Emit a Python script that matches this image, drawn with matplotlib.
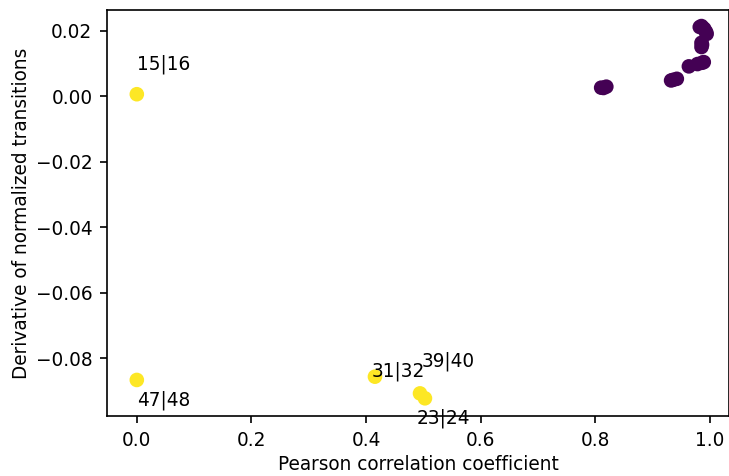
import matplotlib
matplotlib.use("Agg")
import matplotlib.pyplot as plt
import numpy as np

plt.rcParams["font.size"] = 8.9

# Pearson correlation vs. derivative of normalized transitions for channel pairs
corr_ok = [0.810, 0.814, 0.819, 0.932, 0.936, 0.942, 0.963, 0.978, 0.989, 0.986,
           0.985, 0.986, 0.985, 0.982, 0.985, 0.990, 0.993, 0.994, 0.988]
deriv_ok = [0.0026, 0.0025, 0.0029, 0.0048, 0.0050, 0.0053, 0.0091, 0.0098, 0.0104, 0.0102,
            0.0150, 0.0157, 0.0163, 0.0211, 0.0214, 0.0205, 0.0196, 0.0190, 0.0208]

# Outlier pairs
pair_names = ["15|16", "23|24", "31|32", "39|40", "47|48"]
corr_out = [0.000, 0.5026, 0.4154, 0.494, 0.000]
deriv_out = [0.0006, -0.0922, -0.0856, -0.0907, -0.0866]

corr = np.array(corr_ok + corr_out)
deriv = np.array(deriv_ok + deriv_out)
flag = np.array([0] * len(corr_ok) + [1] * len(corr_out))

fig = plt.figure(figsize=(730 / 150, 476 / 150), dpi=150)
ax = fig.add_axes([107 / 730, 1 - 416 / 476, (729 - 107) / 730, (416 - 10) / 476])
ax.scatter(corr, deriv, c=flag, cmap="viridis")

# label offsets (dx, dy) for each outlier pair
offsets = [(0.0, 0.0076), (-0.015, -0.0076), (-0.006, 0.0), (0.003, 0.0081), (0.0, -0.0077)]
for name, x, y, (dx, dy) in zip(pair_names, corr_out, deriv_out, offsets):
    ax.text(x + dx, y + dy, name)

ax.set_xlim(-0.052, 1.033)
ax.set_ylim(-0.0976, 0.0263)
ax.set_xlabel("Pearson correlation coefficient", labelpad=2.5)
ax.set_ylabel("Derivative of normalized transitions", labelpad=2)

fig.savefig("out.png", dpi=150)
